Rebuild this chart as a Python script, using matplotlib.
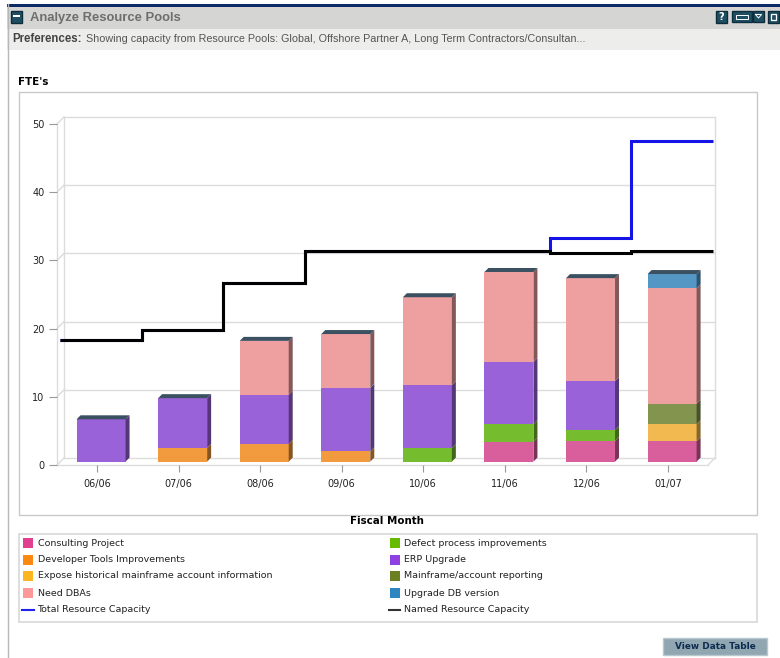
import matplotlib
matplotlib.use("Agg")
import matplotlib.pyplot as plt
from matplotlib.patches import Rectangle
from matplotlib.colors import to_rgb

# chart data
months = ["06/06", "07/06", "08/06", "09/06", "10/06", "11/06", "12/06", "01/07"]
consulting = [0, 0, 0, 0, 0, 2.9, 3.0, 3.0]
developer = [0, 2.0, 2.6, 1.5, 0, 0, 0, 0]
defect = [0, 0, 0, 0, 2.0, 2.6, 1.6, 0]
expose = [0, 0, 0, 0, 0, 0, 0, 2.5]
mainframe = [0, 0, 0, 0, 0, 0, 0, 3.0]
erp = [6.2, 7.3, 7.2, 9.3, 9.2, 9.1, 7.2, 0]
dbas = [0, 0, 7.9, 7.9, 12.9, 13.2, 15.1, 16.9]
upgrade = [0, 0, 0, 0, 0, 0, 0, 2.1]
total_capacity = [17.8, 19.3, 26.2, 30.9, 30.9, 30.9, 32.8, 47.0]
named_capacity = [17.8, 19.3, 26.2, 30.9, 30.9, 30.9, 30.6, 30.9]
y_ticks = [0, 10, 20, 30, 40, 50]

# stack order bottom to top, with the lighter bar colour
stack = [
    (consulting, "#D95F9C"),
    (developer, "#F29A3E"),
    (defect, "#76BC2F"),
    (expose, "#F2B950"),
    (mainframe, "#83944E"),
    (erp, "#9A62D8"),
    (dbas, "#EEA0A0"),
    (upgrade, "#5597C4"),
]

legend_left = [
    ("Consulting Project", "#E0408F"),
    ("Developer Tools Improvements", "#FF8811"),
    ("Expose historical mainframe account information", "#FFB522"),
    ("Need DBAs", "#FF9999"),
]
legend_right = [
    ("Defect process improvements", "#66BB00"),
    ("ERP Upgrade", "#9040E0"),
    ("Mainframe/account reporting", "#6B7F22"),
    ("Upgrade DB version", "#2E86C1"),
]

W, H = 780, 658
fig = plt.figure(figsize=(W / 100, H / 100), dpi=100)

# page furniture goes on an axes in pixel coordinates
bg = fig.add_axes([0, 0, 1, 1])
bg.set_xlim(0, W)
bg.set_ylim(H, 0)
bg.axis("off")


def box(x, y, w, h, face="none", edge="none", lw=1.0, z=1):
    bg.add_patch(Rectangle((x, y), w, h, facecolor=face, edgecolor=edge, linewidth=lw, zorder=z))


# header
box(7, 7, 773, 22, face="#D5D5D3")
box(7, 29, 773, 21, face="#EDEDEB")
box(7, 4, 773, 3, face="#0B2A66")
bg.plot([7.5, 7.5], [4, H], color="#B8B8B8", lw=1.0)
box(11, 11, 11, 12, face="#1F4E63", edge="#0E2C3A")
box(13, 15, 7, 2, face="white", z=2)
bg.text(30, 17.5, "Analyze Resource Pools", fontsize=9.4, fontweight="bold", color="#6E6E6E",
        family="Liberation Sans", va="center")
bg.text(12, 39.5, "Preferences:", fontsize=8.3, fontweight="bold", color="#444444",
        family="Liberation Sans", va="center")
bg.text(86, 39.5, "Showing capacity from Resource Pools: Global, Offshore Partner A, Long Term Contractors/Consultan...",
        fontsize=7.75, color="#555555", family="Liberation Sans", va="center")

# header icons
box(716, 11, 11, 12, face="#1F4E63", edge="#0E2C3A")
bg.text(721.5, 17.5, "?", fontsize=7, fontweight="bold", color="white", ha="center", va="center")
box(732, 11, 20, 11, face="#1F4E63", edge="#0E2C3A")
box(736, 15, 12, 4, edge="white", lw=0.7, z=2)
box(753, 11, 11, 11, face="#1F4E63", edge="#0E2C3A")
bg.plot([755.5, 761.5, 758.5, 755.5], [14.5, 14.5, 18, 14.5], color="white", lw=0.7)
box(768, 11, 11, 12, face="#1F4E63", edge="#0E2C3A")
box(771, 14, 5, 6, edge="white", lw=0.9, z=2)

# chart frame and titles
bg.text(18, 82, "FTE's", fontsize=7.4, fontweight="bold", color="black", va="center")
box(18.5, 91.5, 738, 423, edge="#C8C8C8", lw=1.0)
bg.text(387, 521, "Fiscal Month", fontsize=7.4, fontweight="bold", color="black", ha="center", va="center")

# legend box
box(18.5, 533.5, 738, 88, edge="#D8D8D8", lw=1.2)
rows = [543, 560, 576, 593]
for y, (label, color) in zip(rows, legend_left):
    box(22.5, y - 5, 10, 10, face=color)
    bg.text(38, y, label, fontsize=6.8, color="#222222", va="center")
for y, (label, color) in zip(rows, legend_right):
    box(389.5, y - 5, 10, 10, face=color)
    bg.text(404, y, label, fontsize=6.8, color="#222222", va="center")
bg.plot([22, 34], [610, 610], color="#2222EE", lw=1.5)
bg.text(37, 610, "Total Resource Capacity", fontsize=6.8, color="#222222", va="center")
bg.plot([389, 400], [610, 610], color="#333333", lw=1.5)
bg.text(404, 610, "Named Resource Capacity", fontsize=6.8, color="#222222", va="center")

# view data table button
box(663, 638, 104, 17, face="#90A7B2", edge="#B9C7CE", lw=1.0)
bg.text(715, 646.5, "View Data Table", fontsize=6.4, fontweight="bold", color="#0E2C50",
        ha="center", va="center")

# the chart itself, front plane runs x 57-708 and y 465-124 in pixels
ax = fig.add_axes([57 / W, 1 - 465 / H, 651 / W, 341 / H])
ax.patch.set_alpha(0)
ax.set_xlim(-0.49, 7.49)
ax.set_ylim(0, 50)
for side in ax.spines.values():
    side.set_visible(False)

dx = 7 / 81.6   # depth of the fake 3d, in data units
dy = 7 / 6.82
grid = "#DCDCDC"
x0, x1 = ax.get_xlim()

# back wall, floor and the diagonal joints
for v in y_ticks:
    ax.plot([x0 + dx, x1 + dx], [v + dy, v + dy], color=grid, lw=1.0, clip_on=False, zorder=1)
    ax.plot([x0, x0 + dx], [v, v + dy], color=grid, lw=1.0, clip_on=False, zorder=1)
ax.plot([x0, x0], [0, 50], color=grid, lw=1.0, clip_on=False, zorder=1)
ax.plot([x0 + dx, x0 + dx], [dy, 50 + dy], color=grid, lw=1.0, clip_on=False, zorder=1)
ax.plot([x1 + dx, x1 + dx], [dy, 50 + dy], color=grid, lw=1.0, clip_on=False, zorder=1)
ax.plot([x0, x1], [0, 0], color=grid, lw=1.0, clip_on=False, zorder=1)
ax.plot([x1, x1 + dx], [0, dy], color=grid, lw=1.0, clip_on=False, zorder=1)

# bars sit halfway into the depth
bar_w = 49 / 81.6
shift_x = 0.05
base = 0.5
cap_x = 4 / 81.6
cap_y = 4 / 6.82


def darker(color, f):
    r, g, b = to_rgb(color)
    return (r * f, g * f, b * f)


for i in range(len(months)):
    bottom = base
    left = i + shift_x - bar_w / 2
    right = i + shift_x + bar_w / 2
    for values, color in stack:
        v = values[i]
        if v == 0:
            continue
        ax.bar(i + shift_x, v, bar_w, bottom=bottom, color=color, linewidth=0, zorder=3)
        ax.fill([right, right + cap_x, right + cap_x, right],
                [bottom, bottom + cap_y, bottom + v + cap_y, bottom + v],
                color=darker(color, 0.55), linewidth=0, zorder=3)
        bottom += v
    ax.fill([left, left + cap_x, right + cap_x, right],
            [bottom, bottom + cap_y, bottom + cap_y, bottom],
            color="#3B5060", linewidth=0, zorder=3)

# capacity lines, blue runs under black where they agree
edges = [i + shift_x - 0.5 for i in range(len(months) + 1)]
ax.stairs([v + base for v in total_capacity], edges, baseline=None, color="#1414E6", lw=2.2,
          zorder=4, clip_on=False)
ax.stairs([v + base for v in named_capacity], edges, baseline=None, color="black", lw=2.2,
          zorder=5, clip_on=False)

ax.set_xticks(range(len(months)))
ax.set_xticklabels(months, fontsize=7, color="#222222")
ax.set_yticks(y_ticks)
ax.set_yticklabels([str(v) for v in y_ticks], fontsize=7, color="#222222")
ax.tick_params(axis="x", length=5, width=0.8, color="#999999", pad=5)
ax.tick_params(axis="y", length=6, width=0.8, color="#999999", pad=3)

fig.savefig("out.png", dpi=100)
